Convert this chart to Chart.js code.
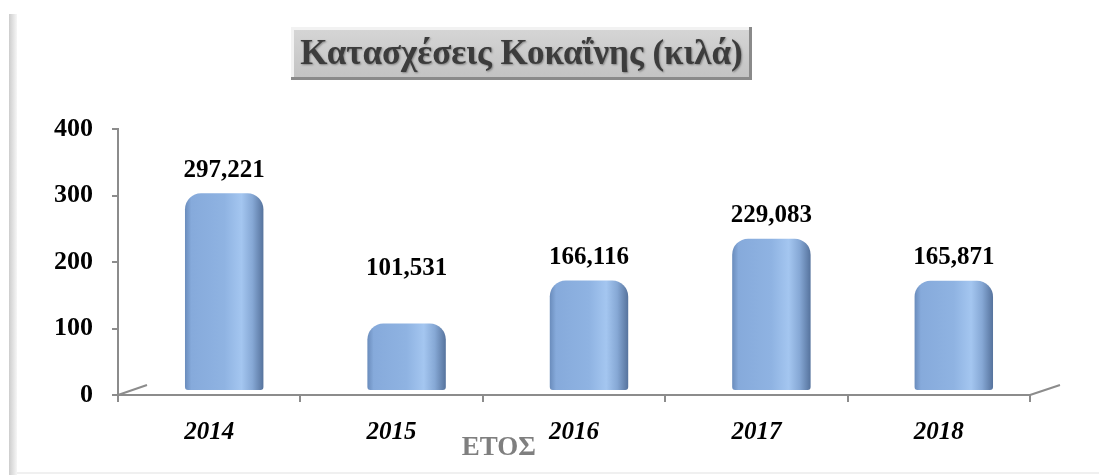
<!DOCTYPE html>
<html>
<head>
<meta charset="utf-8">
<script src="https://cdn.jsdelivr.net/npm/chart.js@4.4.1/dist/chart.umd.min.js"></script>
<style>
html, body { margin: 0; padding: 0; background: #fff; }
#wrap { width: 1099px; height: 475px; }
</style>
</head>
<body>
<div id="wrap"><canvas id="cocaineChart" width="1099" height="475"></canvas></div>
<script>
// data
const years = ['2014', '2015', '2016', '2017', '2018'];
const kilos = [297.221, 101.531, 166.116, 229.083, 165.871];
const yTicks = [0, 100, 200, 300, 400];
const chartTitle = 'Κατασχέσεις Κοκαΐνης (κιλά)';
const axisTitle = 'ΕΤΟΣ';

const serif = '"Liberation Serif", "DejaVu Serif", serif';
const axisGray = '#8c8c8c';
const barPct = 0.43;

// horizontal "cylinder" shading for each bar
barFill = (c) => {
    const chart = c.chart;
    const xs = chart.scales.x;
    if (!chart.chartArea || !xs || c.type !== 'data') return '#8fb3e2';
    const w = xs.width / years.length * barPct;
    const cx = xs.getPixelForValue(c.dataIndex);
    const g = chart.ctx.createLinearGradient(cx - w / 2, 0, cx + w / 2, 0);
    g.addColorStop(0, '#6a8cbc');
    g.addColorStop(0.08, '#86aadb');
    g.addColorStop(0.5, '#8fb3e2');
    g.addColorStop(0.72, '#a4c6f0');
    g.addColorStop(0.86, '#86a8d5');
    g.addColorStop(1, '#56739d');
    return g;
};

// page frame + boxed title
const frame = {
    id: 'frame',
    beforeDraw(chart) {
        const ctx = chart.ctx;
        ctx.save();
        const g = ctx.createLinearGradient(9, 0, 17, 0);
        g.addColorStop(0, '#cdcdcd');
        g.addColorStop(1, '#f6f6f6');
        ctx.fillStyle = g;
        ctx.fillRect(9, 14, 8, 461);
        ctx.fillStyle = '#f0f0f0';
        ctx.fillRect(17, 472, 1082, 2);

        // title box
        const bx = 291, by = 27, bw = 461, bh = 53;
        const bg = ctx.createLinearGradient(0, by, 0, by + bh);
        bg.addColorStop(0, '#d6d6d6');
        bg.addColorStop(1, '#c2c2c2');
        ctx.fillStyle = bg;
        ctx.fillRect(bx, by, bw, bh);
        ctx.fillStyle = '#f2f2f2';
        ctx.fillRect(bx, by, bw, 3);
        ctx.fillRect(bx, by, 3, bh);
        ctx.fillStyle = '#8a8a8a';
        ctx.fillRect(bx, by + bh - 3, bw, 3);
        ctx.fillRect(bx + bw - 3, by, 3, bh);

        ctx.font = 'bold 35px ' + serif;
        ctx.fillStyle = '#3c3c3c';
        ctx.textAlign = 'center';
        ctx.textBaseline = 'alphabetic';
        ctx.shadowColor = 'rgba(0,0,0,0.35)';
        ctx.shadowOffsetX = 1;
        ctx.shadowOffsetY = 1;
        ctx.shadowBlur = 2;
        ctx.fillText(chartTitle, bx + bw / 2, 64);
        ctx.restore();
    }
};

// bars stand a little back and to the right (3d floor), values above them
const depth = {
    id: 'depth',
    beforeDatasetsDraw(chart, args, opts) {
        chart.ctx.save();
        chart.ctx.translate(opts.dx, opts.dy);
    },
    afterDatasetsDraw(chart, args, opts) {
        const ctx = chart.ctx;
        ctx.restore();
        ctx.save();
        ctx.font = 'bold 25px ' + serif;
        ctx.fillStyle = '#000';
        ctx.textAlign = 'center';
        ctx.textBaseline = 'middle';
        chart.getDatasetMeta(0).data.forEach((el, i) => {
            const txt = kilos[i].toFixed(3).replace('.', ',');
            ctx.fillText(txt, el.x + opts.dx, el.y + opts.dy - 23 - (opts.lift[i] || 0));
        });
        ctx.restore();
    },
    afterDraw(chart) {
        const ctx = chart.ctx;
        const a = chart.chartArea;
        const xs = chart.scales.x;
        ctx.save();
        ctx.strokeStyle = axisGray;
        ctx.lineWidth = 2;
        ctx.beginPath();
        ctx.moveTo(a.left, a.bottom);
        ctx.lineTo(a.left + 29, a.bottom - 10);
        ctx.moveTo(a.right, a.bottom);
        ctx.lineTo(a.right + 30, a.bottom - 10);
        ctx.stroke();

        ctx.font = 'bold 27px ' + serif;
        ctx.fillStyle = '#7f7f7f';
        ctx.textAlign = 'center';
        ctx.textBaseline = 'middle';
        const edge = xs.left + xs.width * 2 / years.length;
        ctx.fillText(axisTitle, edge + 16, 448);
        ctx.restore();
    }
};

displayCocaineChart = () => {
    var ctx = document.getElementById('cocaineChart').getContext('2d');
    var myBarChart = new Chart(ctx, {
        type: 'bar',
        data: {
            labels: years,
            datasets: [{
                label: 'κιλά',
                data: kilos,
                backgroundColor: barFill,
                borderWidth: 0,
                borderRadius: { topLeft: 16, topRight: 16, bottomLeft: 3, bottomRight: 3 },
                borderSkipped: false,
                categoryPercentage: 1,
                barPercentage: barPct
            }]
        },
        options: {
            responsive: false,
            animation: false,
            devicePixelRatio: 1,
            layout: { padding: { top: 129, right: 69, bottom: 0, left: 0 } },
            plugins: {
                legend: { display: false },
                tooltip: { enabled: false },
                title: { display: false },
                depth: { dx: 15, dy: -4, lift: [0, 32, 0, 0, 0] }
            },
            scales: {
                x: {
                    afterFit: (s) => { s.height = 80; },
                    grid: { offset: true, drawOnChartArea: false, tickLength: 7, color: axisGray, lineWidth: 2 },
                    border: { display: true, color: axisGray, width: 2 },
                    ticks: {
                        padding: 16,
                        color: '#000',
                        font: { family: serif, size: 25, weight: 'bold', style: 'italic' }
                    }
                },
                y: {
                    min: 0,
                    max: 400,
                    afterFit: (s) => { s.width = 118; },
                    afterBuildTicks: (s) => { s.ticks = yTicks.map(v => ({ value: v })); },
                    grid: { drawOnChartArea: false, tickLength: 6, color: axisGray, lineWidth: 2 },
                    border: { display: true, color: axisGray, width: 2 },
                    ticks: {
                        padding: 19,
                        color: '#000',
                        font: { family: serif, size: 26, weight: 'bold' }
                    }
                }
            }
        },
        plugins: [frame, depth]
    });
};

displayCocaineChart();
</script>
</body>
</html>
